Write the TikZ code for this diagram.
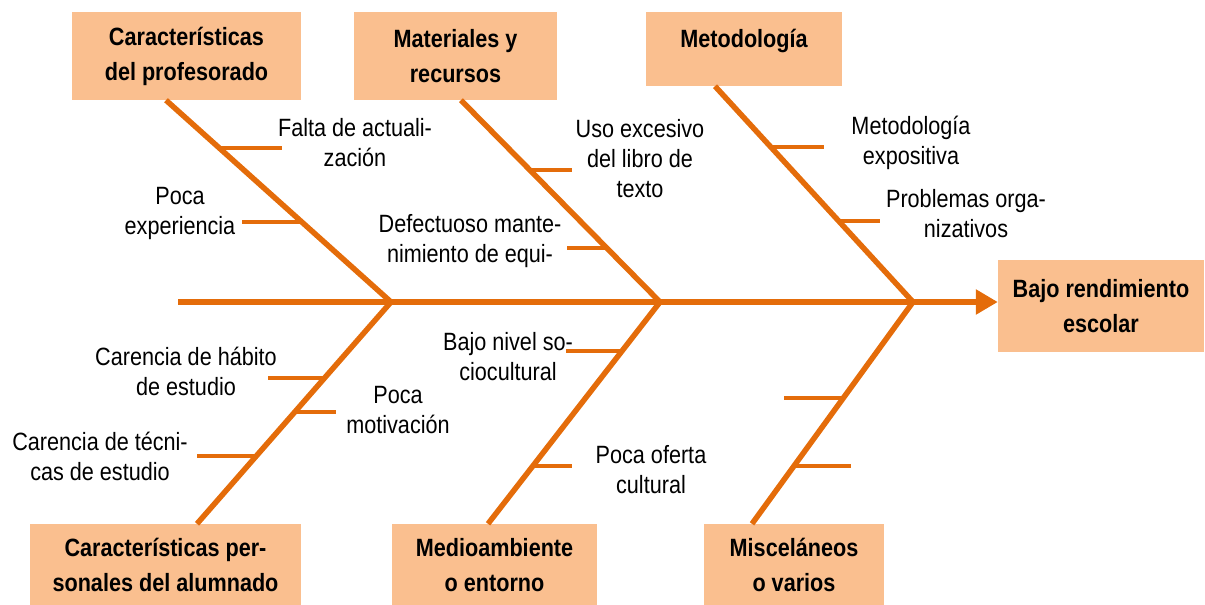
\documentclass[tikz,border=0pt]{standalone}
\usepackage{fontspec}
\setmainfont{Liberation Sans}[FakeStretch=0.865]
\usetikzlibrary{arrows.meta}
\definecolor{bone}{HTML}{E46C0A}
\definecolor{boxfill}{HTML}{FABF8F}

\begin{document}
\begin{tikzpicture}[x=1pt,y=-1pt,
		cause/.style={fill=boxfill,font=\fontsize{25}{35}\selectfont\bfseries,align=center,inner sep=0pt},
		item/.style={font=\fontsize{25}{30}\selectfont,align=center,inner sep=0pt},
		bonel/.style={draw=bone,line width=5.5pt},
		ribl/.style={draw=bone,line width=4pt},
		spine/.style={draw=bone,line width=6pt,-{Triangle[length=22pt,width=24pt]}}]
			\useasboundingbox (0,0) rectangle (1205,605);

			\node[cause,minimum width=229pt,minimum height=88pt] (prof) at (186.5,56) {Características\\del profesorado};
			\node[cause,minimum width=203pt,minimum height=88pt] (mat) at (455.5,56) {Materiales y\\recursos};
			\node[cause,minimum width=196pt,minimum height=74pt,text height=18pt,text depth=22pt] (met) at (744,49) {Metodología};
			\node[cause,minimum width=206pt,minimum height=92pt] (res) at (1101,306) {Bajo rendimiento\\escolar};
			\node[cause,minimum width=271pt,minimum height=82pt] (alum) at (165.5,565) {Características per-\\sonales del alumnado};
			\node[cause,minimum width=205pt,minimum height=82pt] (medio) at (494.5,565) {Medioambiente\\o entorno};
			\node[cause,minimum width=180pt,minimum height=82pt] (misc) at (794,565) {Misceláneos\\o varios};

			\node[item] (fa) at (355,143) {Falta de actuali-\\zación};
			\node[item] (pe) at (180,213) {Poca\\experiencia};
			\node[item] (ul) at (640,159) {Uso excesivo\\del libro de\\texto};
			\node[item] (dm) at (470,241) {Defectuoso mante-\\nimiento de equi-};
			\node[item] (me) at (911,143) {Metodología\\expositiva};
			\node[item] (po) at (966,214) {Problemas orga-\\nizativos};
			\node[item] (ch) at (186,371) {Carencia de hábito\\de estudio};
			\node[item] (pm) at (398,410) {Poca\\motivación};
			\node[item] (ct) at (100,456) {Carencia de técni-\\cas de estudio};
			\node[item] (bn) at (508,357) {Bajo nivel so-\\ciocultural};
			\node[item] (pc) at (651,470) {Poca oferta\\cultural};

			% spine and bones
			\coordinate (tail) at (178,302);
			\coordinate (j1) at (391,302);
			\coordinate (j2) at (660,302);
			\coordinate (j3) at (913,302);

			\draw[spine] (tail) -- (tail -| res.west);
			\draw[bonel] ([xshift=-20.5pt]prof.south) -- (j1);
			\draw[bonel] ([xshift=5.5pt]mat.south) -- (j2);
			\draw[bonel] ([xshift=-29pt]met.south) -- (j3);
			\draw[bonel] ([xshift=31.5pt]alum.north) -- (j1);
			\draw[bonel] ([xshift=-6.5pt]medio.north) -- (j2);
			\draw[bonel] ([xshift=-42pt]misc.north) -- (j3);

			% ribs
			\coordinate (a1) at (219.5,148); \coordinate (a1e) at (282,148);
			\coordinate (a2) at (302,222);   \coordinate (a2e) at (242,222);
			\coordinate (b1) at (530,170);   \coordinate (b1e) at (572,170);
			\coordinate (b2) at (607,248);   \coordinate (b2e) at (567,248);
			\coordinate (c1) at (770,147);   \coordinate (c1e) at (824,147);
			\coordinate (c2) at (838,221);   \coordinate (c2e) at (880,221);
			\coordinate (d1) at (324,378);   \coordinate (d1e) at (268,378);
			\coordinate (d2) at (294,412);   \coordinate (d2e) at (336,412);
			\coordinate (d3) at (256,456);   \coordinate (d3e) at (197,456);
			\coordinate (e1) at (622,351);   \coordinate (e1e) at (566,351);
			\coordinate (e2) at (532,466);   \coordinate (e2e) at (572,466);
			\coordinate (f1) at (843,398);   \coordinate (f1e) at (784,398);
			\coordinate (f2) at (793.5,466); \coordinate (f2e) at (851,466);

			\draw[ribl] (a1) -- (a1e);
			\draw[ribl] (a2) -- (a2e);
			\draw[ribl] (b1) -- (b1e);
			\draw[ribl] (b2) -- (b2e);
			\draw[ribl] (c1) -- (c1e);
			\draw[ribl] (c2) -- (c2e);
			\draw[ribl] (d1) -- (d1e);
			\draw[ribl] (d2) -- (d2e);
			\draw[ribl] (d3) -- (d3e);
			\draw[ribl] (e1) -- (e1e);
			\draw[ribl] (e2) -- (e2e);
			\draw[ribl] (f1) -- (f1e);
			\draw[ribl] (f2) -- (f2e);
		\end{tikzpicture}
\end{document}
